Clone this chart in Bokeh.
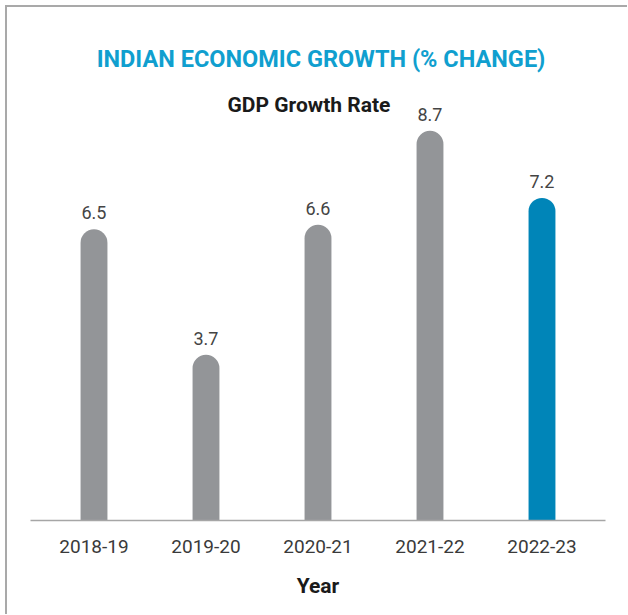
from bokeh.plotting import figure
from bokeh.models import ColumnDataSource, LabelSet, Label, FactorRange, Range1d
from bokeh.core.properties import value
from bokeh.embed import file_html
from bokeh.resources import INLINE

years = ["2018-19", "2019-20", "2020-21", "2021-22", "2022-23"]
growth = [6.5, 3.7, 6.6, 8.7, 7.2]
bar_colors = ["#939598", "#939598", "#939598", "#939598", "#0085b8"]
value_labels = [f"{v:.1f}" for v in growth]
title_text = "INDIAN ECONOMIC GROWTH (% CHANGE)"
subtitle_text = "GDP Growth Rate"

src = ColumnDataSource(dict(year=years, growth=growth, color=bar_colors, label=value_labels))

p = figure(
    x_range=FactorRange(*years, range_padding=0.0268, range_padding_units="percent"),
    y_range=Range1d(0, 11.45),
    width=622, height=609,
    min_border_left=23, min_border_right=24, min_border_top=0, min_border_bottom=96,
    output_backend="svg", toolbar_location=None, title=None,
)
p.styles = {"border-top": "2px solid #a9a9a9", "border-left": "2px solid #a9a9a9",
            "margin-left": "5px", "margin-top": "5px"}

p.vbar(x="year", top="growth", width=0.24, source=src, fill_color="color",
       line_color=None, border_radius=(14, 14, 0, 0))

labels = LabelSet(x="year", y="growth", text="label", source=src, y_offset=10,
                  text_align="center", text_baseline="alphabetic",
                  text_font=value("Roboto"), text_font_size=value("18px"),
                  text_color=value("#444444"))
p.add_layout(labels)

main = Label(x=290.5, y=462, x_units="screen", y_units="screen", text=title_text,
             text_align="center", text_baseline="alphabetic", text_font="Roboto",
             text_font_size="23.5px", text_font_style="bold", text_color="#109fcf")
sub = Label(x=278.5, y=416, x_units="screen", y_units="screen", text=subtitle_text,
            text_align="center", text_baseline="alphabetic", text_font="Roboto",
            text_font_size="21px", text_font_style="bold", text_color="#1a1a1a")
p.add_layout(main)
p.add_layout(sub)

p.xgrid.grid_line_color = None
p.ygrid.grid_line_color = None
p.yaxis.visible = False
p.outline_line_color = None

ax = p.xaxis[0]
ax.axis_line_color = "#a6a6a6"
ax.axis_line_width = 1.5
ax.major_tick_line_color = None
ax.minor_tick_line_color = None
ax.major_tick_out = 0
ax.major_tick_in = 0
ax.major_label_standoff = 19
ax.major_label_text_font = "Roboto"
ax.major_label_text_font_size = "19px"
ax.major_label_text_color = "#3a3a3a"
ax.axis_label = "Year"
ax.axis_label_text_font = "Roboto"
ax.axis_label_text_font_size = "21px"
ax.axis_label_text_font_style = "bold"
ax.axis_label_text_color = "#1a1a1a"
ax.axis_label_standoff = 18

open("out.html", "w").write(file_html(p, INLINE))
